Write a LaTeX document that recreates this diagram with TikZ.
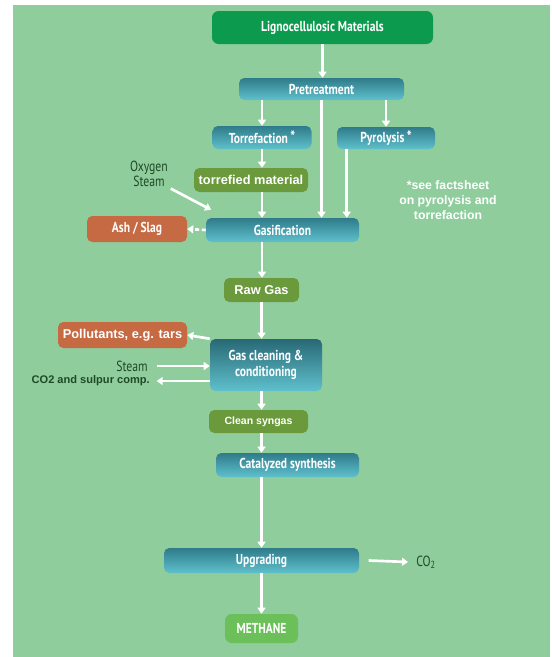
\documentclass[tikz,border=0pt]{standalone}
\usepackage{fontspec}
\setmainfont{Liberation Sans}
\newfontfamily\condfont[FakeStretch=0.8]{PT Sans}
\usetikzlibrary{arrows.meta}
\definecolor{panel}{HTML}{8FCD9D}
\definecolor{topgreen}{HTML}{0C9A4E}
\definecolor{tealtop}{HTML}{2F7B8A}
\definecolor{tealbot}{HTML}{5FC0CC}
\definecolor{olivebox}{HTML}{6A9A3B}
\definecolor{rust}{HTML}{C66A43}
\definecolor{methgreen}{HTML}{6CC05A}
\definecolor{labelgreen}{HTML}{1F4A25}
\newcommand{\footstar}{\,\raisebox{0.5pt}{\fontsize{12}{12}\selectfont*}}

\begin{document}
\begin{tikzpicture}[
  x=0.75pt, y=-0.75pt,
  >={Triangle[width=6pt,length=4.5pt]},
  stage/.style={rectangle, rounded corners=4pt, top color=tealtop, bottom color=tealbot, text=white, align=center, font=\condfont\bfseries\fontsize{10.8}{12}\selectfont, inner sep=0pt},
  product/.style={rectangle, rounded corners=4pt, fill=olivebox, text=white, align=center, font=\bfseries\fontsize{9.6}{11}\selectfont, inner sep=0pt},
  waste/.style={rectangle, rounded corners=4pt, fill=rust, text=white, align=center, inner sep=0pt},
  side/.style={text=labelgreen, align=center, inner sep=0pt, font=\condfont\fontsize{11}{11.5}\selectfont},
  flow/.style={->, draw=white, line width=2pt}
]
\def\xMain{262}
\fill[white] (0,0) rectangle (552,657);
\fill[panel] (13,5) rectangle (550,657);
\node[rectangle, rounded corners=5pt, fill=topgreen, text=white, font=\condfont\bfseries\fontsize{10.8}{12}\selectfont, minimum width=165.75pt, minimum height=24.75pt] (ligno) at (322.5,27.5) {Lignocellulosic Materials};
\node[stage, minimum width=123.75pt, minimum height=16.5pt] (pre) at (321.5,89) {Pretreatment};
\node[stage, minimum width=74.25pt, minimum height=17.25pt] (torr) at (\xMain,137.5) {Torrefaction\footstar};
\node[stage, minimum width=73.5pt, minimum height=16.5pt] (pyro) at (386,138) {Pyrolysis\footstar};
\node[product, minimum width=85.5pt, minimum height=18pt] (torrmat) at (251,180) {torrefied material};
\node[stage, minimum width=114.75pt, minimum height=18pt] (gasif) at (282.5,230) {Gasification};
\node[waste, font=\condfont\bfseries\fontsize{10.8}{12}\selectfont, minimum width=75pt, minimum height=19.5pt] (ash) at (137,229) {Ash / Slag};
\node[side] (oxy) at (149,174) {Oxygen\\Steam};
\node[text=white, align=center, font=\bfseries\fontsize{9.2}{11.5}\selectfont] (note) at (448,200) {*see factsheet\\on pyrolysis and\\torrefaction};
\node[product, minimum width=56.25pt, minimum height=18pt] (raw) at (261.5,290) {Raw Gas};
\node[waste, font=\bfseries\fontsize{9.6}{11}\selectfont, minimum width=96.75pt, minimum height=19.5pt] (poll) at (122.5,335) {Pollutants, e.g. tars};
\node[stage, top color=tealtop!85!black, minimum width=84pt, minimum height=39pt] (clean) at (266,365) {Gas cleaning \&\\conditioning};
\node[side, anchor=east] (steam) at (148,366) {Steam};
\node[side, font=\bfseries\fontsize{8.3}{9}\selectfont, anchor=east] (sulph) at (150,381) {CO2 and sulpur comp.};
\node[product, font=\bfseries\fontsize{7.9}{9}\selectfont, minimum width=74.25pt, minimum height=17.25pt] (syngas) at (258.5,421.5) {Clean syngas};
\node[stage, minimum width=107.25pt, minimum height=18pt] (cat) at (287.5,465) {Catalyzed synthesis};
\node[stage, minimum width=146.25pt, minimum height=18.75pt] (upg) at (261.5,560.5) {Upgrading};
\node[side, anchor=west] (co2) at (416,562) {CO\textsubscript{2}};
\node[rectangle, rounded corners=5pt, fill=methgreen, text=white, font=\condfont\bfseries\fontsize{10.8}{12}\selectfont, minimum width=54.75pt, minimum height=21.75pt] (meth) at (261.5,628.5) {METHANE};
\coordinate (pyroout) at ([xshift=7.5pt]pyro.south west);
\draw[flow] (ligno.south) -- (ligno.south |- pre.north);
\draw[flow] (pre.south -| torr) -- (torr);
\draw[flow] (pre.south -| pyro) -- (pyro);
\draw[flow] (pre.south) -- (pre.south |- gasif.north);
\draw[flow] (pyroout) -- (pyroout |- gasif.north);
\draw[flow] (torr) -- (torr |- torrmat.north);
\draw[flow] (torr |- torrmat.south) -- (torr |- gasif.north);
\draw[flow] ([xshift=2pt,yshift=-1pt]oxy.south east) -- ([xshift=4pt,yshift=6pt]gasif.north west);
\draw[flow, dash pattern=on 3pt off 2pt] (gasif.west) -- (ash.east);
\draw[flow] (torr |- gasif.south) -- (torr |- raw.north);
\draw[flow] (raw) -- (raw |- clean.north);
\draw[flow] (clean.north west) -- (poll.east);
\draw[flow] ([xshift=7pt]steam.east) -- (steam.east -| clean.west);
\draw[flow] (sulph.east -| clean.west) -- ([xshift=5pt]sulph.east);
\draw[flow] (raw |- clean.south) -- (raw |- syngas.north);
\draw[flow] (raw |- syngas.south) -- (raw |- cat.north);
\draw[flow] (raw |- cat.south) -- (upg);
\draw[flow] (upg) -- (meth);
\draw[flow] ([xshift=7pt]upg.east) -- ([xshift=-6pt]co2.west);
\end{tikzpicture}
\end{document}
